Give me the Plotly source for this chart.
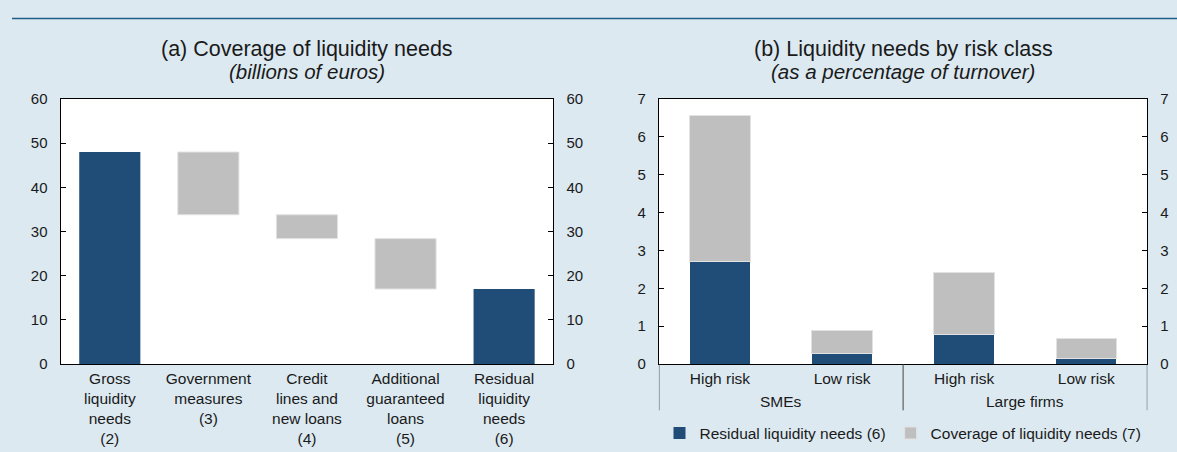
import plotly.graph_objects as go

# ---------------- data ----------------
# Panel (a): coverage of liquidity needs (billions of euros)
steps = [
    "Gross<br>liquidity<br>needs<br>(2)",
    "Government<br>measures<br>(3)",
    "Credit<br>lines and<br>new loans<br>(4)",
    "Additional<br>guaranteed<br>loans<br>(5)",
    "Residual<br>liquidity<br>needs<br>(6)",
]
step_values = [48.0, -14.2, -5.4, -11.4, 0.0]
step_measures = ["absolute", "relative", "relative", "relative", "total"]

# Panel (b): liquidity needs by risk class (% of turnover)
firm_groups = ["SMEs", "SMEs", "Large firms", "Large firms"]
risk_classes = ["High risk", "Low risk", "High risk", "Low risk"]
residual_needs = [2.72, 0.27, 0.79, 0.14]
coverage_needs = [3.85, 0.62, 1.64, 0.53]

left_ticks = [0, 10, 20, 30, 40, 50, 60]
right_ticks = [0, 1, 2, 3, 4, 5, 6, 7]

# ---------------- style ----------------
BLUE = "#204d77"
GRAY = "#bfbfbf"
BG = "#dce9f1"
TXT = "#1a1a1a"
FONT = "Liberation Sans, Arial, sans-serif"
W, H = 1177, 452

positions = list(range(len(risk_classes)))

fig = go.Figure()

fig.add_trace(go.Waterfall(
    x=steps, y=step_values, measure=step_measures,
    xaxis="x", yaxis="y",
    totals=dict(marker=dict(color=BLUE, line=dict(width=0))),
    decreasing=dict(marker=dict(color=GRAY, line=dict(color="#e2e2e2", width=1))),
    increasing=dict(marker=dict(color=GRAY, line=dict(color="#e2e2e2", width=1))),
    connector=dict(visible=False),
    showlegend=False, hoverinfo="skip",
))
fig.add_trace(go.Scatter(x=[None], y=[None], xaxis="x", yaxis="y3",
                         showlegend=False, hoverinfo="skip"))

fig.add_trace(go.Bar(
    x=positions, y=residual_needs,
    name="Residual liquidity needs (6)",
    marker=dict(color=BLUE, line=dict(width=0)),
    xaxis="x2", yaxis="y2",
))
fig.add_trace(go.Bar(
    x=positions, y=coverage_needs,
    name="Coverage of liquidity needs (7)",
    marker=dict(color=GRAY, line=dict(color="#e2e2e2", width=1)),
    xaxis="x2", yaxis="y2",
))
fig.add_trace(go.Scatter(x=[None], y=[None], xaxis="x2", yaxis="y4",
                         showlegend=False, hoverinfo="skip"))

left_dom = [60.5 / W, 553.4 / W]
right_dom = [658.9 / W, 1147.3 / W]
y_bottom_px, y_top_px = 369, 93.5
y_dom = [1 - y_bottom_px / H, 1 - y_top_px / H]

yax_common = dict(
    ticks="inside", ticklen=5, tickcolor="#000", tickwidth=1,
    showgrid=False, zeroline=False, showline=True, linecolor="#000", linewidth=1,
    tickfont=dict(size=15, color=TXT), ticklabelstandoff=9, fixedrange=True,
)

fig.update_layout(
    width=W, height=H,
    margin=dict(l=0, r=0, t=0, b=0),
    paper_bgcolor=BG, plot_bgcolor="white",
    font=dict(family=FONT, size=15, color=TXT),
    barmode="stack", bargap=0.506, waterfallgap=0.38,
    xaxis=dict(domain=left_dom, anchor="y", showgrid=False, ticks="",
               showline=True, linecolor="#000", linewidth=1, mirror=True,
               tickfont=dict(size=15.5, color=TXT), fixedrange=True),
    yaxis=dict(domain=y_dom, anchor="x", range=[0, 60], tickvals=left_ticks, side="left", **yax_common),
    yaxis3=dict(overlaying="y", anchor="x", side="right", range=[0, 60], tickvals=left_ticks, **yax_common),
    xaxis2=dict(domain=right_dom, anchor="y2", showgrid=False, ticks="", zeroline=False,
                range=[-0.5, len(positions) - 0.5], tickvals=positions, ticktext=risk_classes,
                showline=True, linecolor="#000", linewidth=1, mirror=True,
                tickfont=dict(size=15.5, color=TXT), fixedrange=True),
    yaxis2=dict(domain=y_dom, anchor="x2", range=[0, 7], tickvals=right_ticks, side="left", **yax_common),
    yaxis4=dict(overlaying="y2", anchor="x2", side="right", range=[0, 7], tickvals=right_ticks, **yax_common),
    legend=dict(orientation="h", x=903 / W, xanchor="center", y=1 - 441 / H, yanchor="middle",
                bgcolor="rgba(0,0,0,0)", font=dict(size=15.5, color=TXT), itemclick=False,
                traceorder="normal"),
    showlegend=True,
)

# group dividers and group labels for panel (b), derived from firm_groups
bounds = [-0.5]
for i in range(1, len(firm_groups)):
    if firm_groups[i] != firm_groups[i - 1]:
        bounds.append(i - 0.5)
bounds.append(len(firm_groups) - 0.5)
for b in bounds:
    fig.add_shape(type="line", xref="x2", yref="paper", x0=b, x1=b,
                  y0=1 - 369 / H, y1=1 - 417 / H, line=dict(color="#444", width=1))
for g0, g1 in zip(bounds[:-1], bounds[1:]):
    name = firm_groups[int(g0 + 0.5)]
    fig.add_annotation(x=(g0 + g1) / 2, xref="x2", y=1 - 408 / H, yref="paper", text=name,
                       showarrow=False, font=dict(size=15.5, color=TXT),
                       xanchor="center", yanchor="middle")

# top rule
fig.add_shape(type="line", xref="paper", yref="paper", x0=12 / W, x1=1, y0=1 - 10 / H, y1=1 - 10 / H,
              line=dict(color="#1f5f86", width=1.5))

# titles
cx_a = (left_dom[0] + left_dom[1]) / 2
cx_b = (right_dom[0] + right_dom[1]) / 2
for cx, t, s in [(cx_a, "(a) Coverage of liquidity needs", "(billions of euros)"),
                 (cx_b, "(b) Liquidity needs by risk class", "(as a percentage of turnover)")]:
    fig.add_annotation(x=cx, y=1 - 42 / H, xref="paper", yref="paper", text=t, showarrow=False,
                       font=dict(size=21.5, color=TXT), xanchor="center", yanchor="middle")
    fig.add_annotation(x=cx, y=1 - 65 / H, xref="paper", yref="paper", text="<i>" + s + "</i>",
                       showarrow=False, font=dict(size=20.5, color=TXT), xanchor="center", yanchor="middle")

fig.write_html(
    "out.html",
    config={"displayModeBar": False},
    post_script=("document.documentElement.style.margin='0';document.documentElement.style.padding='0';"
                 "document.body.style.margin='0';document.body.style.padding='0';"
                 "document.documentElement.style.background='" + BG + "';"),
)
